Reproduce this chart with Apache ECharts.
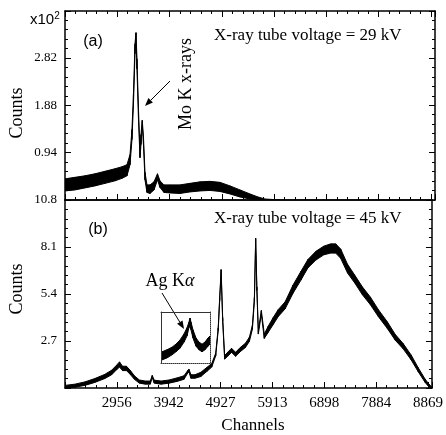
<!DOCTYPE html>
<html><head><meta charset="utf-8">
<script src="https://cdn.jsdelivr.net/npm/echarts@6/dist/echarts.min.js"></script>
<style>html,body{margin:0;padding:0;background:#fff}#c{width:446px;height:435px}</style>
</head><body><div id="c"></div>
<script>
// ---- Panel (a): 29 kV, counts x10^2 (noise band lower / upper envelope) ----
const chA   = [1971,2159,2348,2536,2725,2913,3045,3139,3196,3233,3261,3290,3309,3327,3356,3384,3403,3427,3450,3478,3516,3573,3648,3714,3761,3836,3949,4138,4326,4515,4703,4891,5080,5268,5457,5608,5739,6022];
const lowA  = [0.18,0.20,0.24,0.28,0.33,0.38,0.43,0.48,0.70,1.20,1.90,2.90,3.25,2.60,1.60,0.84,1.10,1.50,1.10,0.40,0.15,0.13,0.20,0.40,0.25,0.15,0.14,0.13,0.16,0.18,0.19,0.17,0.12,0.06,0.02,0.00,0.00,0.00];
const highA = [0.42,0.45,0.48,0.52,0.57,0.62,0.66,0.70,0.90,1.40,2.10,3.10,3.32,2.80,1.80,0.95,1.30,1.58,1.25,0.55,0.30,0.30,0.36,0.52,0.38,0.30,0.30,0.30,0.33,0.36,0.37,0.35,0.28,0.20,0.12,0.06,0.02,0.00];

// ---- Panel (b): 45 kV ----
const chB   = [1971,2159,2348,2536,2725,2857,2951,3007,3064,3139,3214,3290,3384,3497,3591,3629,3667,3799,3949,4100,4232,4307,4326,4364,4439,4552,4665,4759,4835,4882,4910,4938,4967,5004,5061,5136,5212,5306,5400,5475,5532,5570,5594,5617,5645,5702,5758,5833,5928,6022,6154,6305,6455,6587,6738,6889,7021,7115,7210,7341,7473,7624,7775,7926,8096,8246,8397,8548,8680,8812,8887,8944];
const lowB  = [0.00,0.05,0.15,0.32,0.54,0.76,1.05,1.20,1.00,1.00,0.77,0.50,0.28,0.22,0.22,0.60,0.28,0.22,0.28,0.38,0.50,0.88,0.92,0.56,0.56,0.66,0.95,1.20,1.85,3.30,5.00,6.65,3.85,1.66,1.82,2.05,1.82,2.10,2.33,2.68,3.38,5.00,8.45,5.60,3.10,4.25,2.85,3.20,3.65,4.10,4.55,5.45,6.20,6.90,7.35,7.65,7.75,7.75,7.45,6.60,6.05,5.35,4.78,4.10,3.42,2.75,2.25,1.62,0.95,0.33,0.06,0.00];
const highB = [0.15,0.22,0.35,0.54,0.78,1.02,1.31,1.50,1.25,1.25,1.00,0.70,0.46,0.40,0.40,0.72,0.45,0.40,0.46,0.58,0.70,1.02,1.08,0.76,0.76,0.90,1.18,1.40,2.00,3.45,5.20,6.80,4.05,1.86,2.05,2.28,2.05,2.34,2.57,2.92,3.60,5.20,8.60,5.80,3.30,4.45,3.10,3.55,4.05,4.50,4.95,5.92,6.70,7.38,7.85,8.15,8.28,8.28,7.98,7.10,6.50,5.80,5.22,4.50,3.80,3.08,2.55,1.90,1.18,0.52,0.22,0.05];

// ---- Inset: magnified Ag K-alpha region ----
const chIn   = [4158,4199,4240,4272,4305,4338,4362,4378,4387,4395,4411,4436,4460,4485,4509,4534,4550];
const lowIn  = [0.26,0.30,0.36,0.42,0.49,0.61,0.73,0.89,0.93,0.85,0.69,0.53,0.46,0.42,0.46,0.53,0.57];
const highIn = [0.42,0.46,0.51,0.57,0.65,0.77,0.89,1.00,1.08,1.00,0.85,0.69,0.61,0.57,0.61,0.69,0.73];

// ---- axis tick settings ----
const xStep = 8869 / 9;              // channel tick step
const xMin = 2 * xStep, xMax = 8944;
const yStepA = 0.94, yMaxA = 3.75;
const yStepB = 2.7,  yMaxB = 10.8;

const SERIF = "'Liberation Serif','Times New Roman',serif";
const SANS = "'Liberation Sans',Arial,sans-serif";

const chart = echarts.init(document.getElementById('c'), null, {renderer:'canvas'});

function ax(extra){
  return Object.assign({
    type:'value', splitLine:{show:false}, z:5,
    axisLine:{show:true, onZero:false, lineStyle:{color:'#000', width:1.5}},
    axisTick:{show:true, inside:true, length:6, lineStyle:{color:'#000', width:1}},
    minorTick:{show:true, splitNumber:5, length:3, lineStyle:{color:'#000', width:1}},
    axisLabel:{show:false}
  }, extra);
}
// noise band drawn as one quad per segment between lower and upper envelopes
function band(xi, yi, ch, lo, hi){
  return {
    type:'custom', xAxisIndex:xi, yAxisIndex:yi, silent:true, clip:true,
    data: ch.map((c,i)=>[c, lo[i], hi[i]]),
    encode:{x:0, y:[1,2]},
    renderItem:(params, api)=>{
      const i = params.dataIndex;
      if (i >= ch.length - 1) return null;
      const p = [
        api.coord([ch[i], hi[i]]), api.coord([ch[i+1], hi[i+1]]),
        api.coord([ch[i+1], lo[i+1]]), api.coord([ch[i], lo[i]])
      ];
      return {type:'polygon', shape:{points:p}, style:{fill:'#000', stroke:'#000', lineWidth:1, lineJoin:'round'}};
    }
  };
}
function arrow(x1,y1,x2,y2){
  const a=Math.atan2(y2-y1,x2-x1), L=8, W=3.2;
  const bx=x2-L*Math.cos(a), by=y2-L*Math.sin(a);
  const px=-Math.sin(a)*W, py=Math.cos(a)*W;
  return [
    {type:'line', shape:{x1,y1,x2:bx,y2:by}, style:{stroke:'#000', lineWidth:1}},
    {type:'polygon', shape:{points:[[x2,y2],[bx+px,by+py],[bx-px,by-py]]}, style:{fill:'#000'}}
  ];
}
function txt(x,y,text,font,size,rot){
  return {type:'text', x, y, rotation:rot||0,
    style:{text, x:0, y:0, fill:'#000', font: size+'px '+font, textAlign:'center', textVerticalAlign:'middle'}};
}

const option = {
  animation:false,
  backgroundColor:'#fff',
  grid:[
    {left:65, right:11, top:11, height:189},
    {left:65, right:11, top:200, height:188},
    {left:161, top:312, width:49, height:51}
  ],
  xAxis:[
    ax({gridIndex:0, position:'bottom', min:xMin, max:xMax, interval:xStep}),
    ax({gridIndex:0, position:'top', min:xMin, max:xMax, interval:xStep}),
    ax({gridIndex:1, position:'bottom', min:xMin, max:xMax, interval:xStep,
        axisLabel:{show:true, interval:0, color:'#000', fontFamily:SERIF, fontSize:15, margin:8,
          showMinLabel:false, showMaxLabel:false, formatter:v=>String(Math.round(v))}}),
    ax({gridIndex:1, position:'top', min:xMin, max:xMax, interval:xStep, axisTick:{show:false}, minorTick:{show:false}}),
    ax({gridIndex:2, position:'bottom', min:4150, max:4550, axisTick:{show:false}, minorTick:{show:false},
        axisLine:{show:true, onZero:false, lineStyle:{color:'#333', width:1, type:'dotted'}}}),
    ax({gridIndex:2, position:'top', min:4150, max:4550, axisTick:{show:false}, minorTick:{show:false},
        axisLine:{show:true, onZero:false, lineStyle:{color:'#333', width:1}}})
  ],
  yAxis:[
    ax({gridIndex:0, position:'left', min:0, max:yMaxA, interval:yStepA,
        axisLabel:{show:true, color:'#000', fontFamily:SERIF, fontSize:13, margin:8,
          showMinLabel:false, showMaxLabel:false, formatter:v=>v.toFixed(2)}}),
    ax({gridIndex:0, position:'right', min:0, max:yMaxA, interval:yStepA}),
    ax({gridIndex:1, position:'left', min:0, max:yMaxB, interval:yStepB,
        axisLabel:{show:true, color:'#000', fontFamily:SERIF, fontSize:13, margin:8,
          showMinLabel:false, showMaxLabel:true, formatter:v=>String(+v.toFixed(2))}}),
    ax({gridIndex:1, position:'right', min:0, max:yMaxB, interval:yStepB}),
    ax({gridIndex:2, position:'left', min:0.2, max:1.2, axisTick:{show:false}, minorTick:{show:false},
        axisLine:{show:true, onZero:false, lineStyle:{color:'#333', width:1}}}),
    ax({gridIndex:2, position:'right', min:0.2, max:1.2, axisTick:{show:false}, minorTick:{show:false},
        axisLine:{show:true, onZero:false, lineStyle:{color:'#333', width:1, type:'dotted'}}})
  ],
  series:[
    band(0, 0, chA, lowA, highA),
    band(2, 2, chB, lowB, highB),
    band(4, 4, chIn, lowIn, highIn)
  ],
  graphic:[
    txt(17, 113, 'Counts', SERIF, 18, Math.PI/2),
    txt(17, 289, 'Counts', SERIF, 18, Math.PI/2),
    txt(253, 426, 'Channels', SERIF, 17, 0),
    {type:'text', x:30, y:20, style:{text:'{a|x10}{s|2}', x:0, y:0, textVerticalAlign:'middle',
      rich:{a:{fontFamily:SANS, fontSize:15, fill:'#000'}, s:{fontFamily:SANS, fontSize:10, fill:'#000', verticalAlign:'top', padding:[0,0,8,0]}}}},
    txt(93, 41.5, '(a)', SANS, 16, 0),
    txt(98, 229.5, '(b)', SANS, 16, 0),
    {type:'text', x:214, y:36, style:{text:'X-ray tube voltage = 29 kV', x:0, y:0, fill:'#000', font:'17px '+SERIF, textAlign:'left', textVerticalAlign:'middle'}},
    {type:'text', x:214, y:219, style:{text:'X-ray tube voltage = 45 kV', x:0, y:0, fill:'#000', font:'17px '+SERIF, textAlign:'left', textVerticalAlign:'middle'}},
    txt(186, 84, 'Mo K x-rays', SERIF, 18, Math.PI/2),
    {type:'text', x:170, y:281, style:{text:'{n|Ag K}{g|α}', x:0, y:0, textAlign:'center', textVerticalAlign:'middle',
      rich:{n:{fontFamily:SERIF, fontSize:18, fill:'#000'}, g:{fontFamily:SERIF, fontSize:18, fontStyle:'italic', fill:'#000'}}}},
    ...arrow(170, 81, 145, 106),
    ...arrow(162, 293, 184, 329)
  ]
};
chart.setOption(option);
</script>
</body></html>
